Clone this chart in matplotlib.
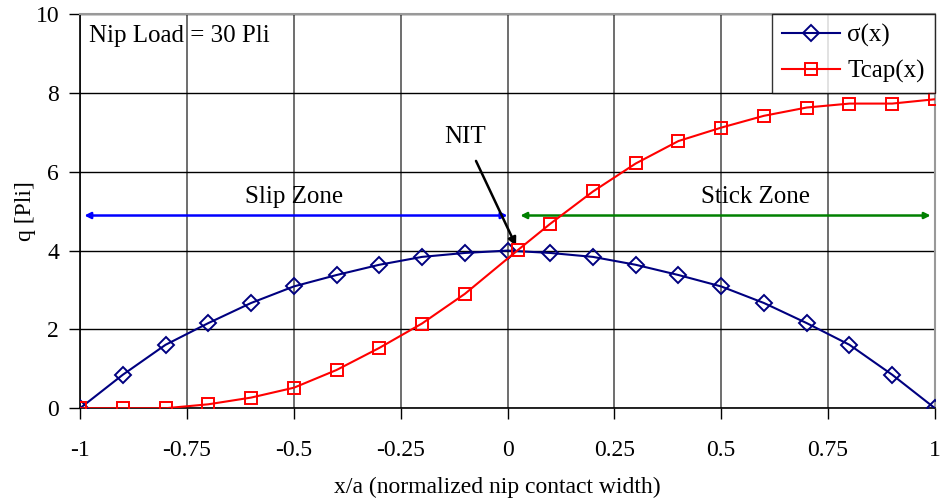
import numpy as np
import matplotlib.pyplot as plt

plt.rcParams['font.family'] = ['Liberation Serif', 'DejaVu Serif']

# normal stress across the nip
x_sigma = [-1.0, -0.9, -0.8, -0.7, -0.6, -0.5, -0.4, -0.3, -0.2, -0.1, 0.0,
           0.1, 0.2, 0.3, 0.4, 0.5, 0.6, 0.7, 0.8, 0.9, 1.0]
sigma = [0.0, 0.85, 1.61, 2.16, 2.67, 3.09, 3.38, 3.64, 3.84, 3.94, 4.0,
         3.94, 3.84, 3.64, 3.38, 3.09, 2.67, 2.16, 1.61, 0.85, 0.0]

# traction capacity
x_tcap = [-1.0, -0.9, -0.8, -0.7, -0.6, -0.5, -0.4, -0.3, -0.2, -0.1, 0.025,
          0.1, 0.2, 0.3, 0.4, 0.5, 0.6, 0.7, 0.8, 0.9, 1.0]
tcap = [0.0, 0.0, 0.0, 0.1, 0.27, 0.52, 0.97, 1.53, 2.15, 2.9, 4.02,
        4.68, 5.50, 6.21, 6.78, 7.12, 7.42, 7.63, 7.73, 7.73, 7.84]

x_ticks = [-1, -0.75, -0.5, -0.25, 0, 0.25, 0.5, 0.75, 1]
x_tick_labels = ['-1', '-0.75', '-0.5', '-0.25', '0', '0.25', '0.5', '0.75', '1']
y_ticks = [0, 2, 4, 6, 8, 10]

# zone extents and labels
zone_y = 4.89
slip_zone = (-0.99, 0.0)
stick_zone = (0.03, 0.99)
nit_point = (0.02, 4.12)

FS = 18

fig = plt.figure(figsize=(9.42, 5.04), dpi=100)
ax = fig.add_axes([0.085, 0.19, 0.9075, 0.782])

ax.plot(x_sigma, sigma, color='#000080', lw=1.5, marker='D', ms=8,
        mfc='none', mec='#000080', mew=1.4, label='σ(x)', zorder=4)
ax.plot(x_tcap, tcap, color='#ff0000', lw=1.5, marker='s', ms=8,
        mfc='none', mec='#ff0000', mew=1.4, label='Tcap(x)', zorder=4)

ax.set_xlim(-1, 1)
ax.set_ylim(0, 10)
ax.set_xticks(x_ticks)
ax.set_xticklabels(x_tick_labels)
ax.set_yticks(y_ticks)

ax.grid(axis='y', color='black', lw=1.0)
ax.grid(axis='x', color='#555555', lw=1.2)
ax.set_axisbelow(True)

for side in ['top', 'right']:
    ax.spines[side].set_color('#999999')
    ax.spines[side].set_linewidth(1.5)
for side in ['left', 'bottom']:
    ax.spines[side].set_color('black')
    ax.spines[side].set_linewidth(1.2)

ax.tick_params(axis='x', direction='out', length=8, width=1, pad=15, labelsize=17)
ax.tick_params(axis='y', direction='out', length=8, width=1, pad=7, labelsize=17)

ax.set_xlabel('x/a (normalized nip contact width)', fontsize=17, labelpad=11)
ax.xaxis.label.set_x(0.488)
ax.set_ylabel('q [Pli]', fontsize=17, labelpad=0)

# slip / stick zone arrows
ax.annotate('', xy=(slip_zone[0], zone_y), xytext=(slip_zone[1], zone_y),
            arrowprops=dict(arrowstyle='<|-|>', color='#0000ff', lw=1.8,
                            mutation_scale=9, shrinkA=0, shrinkB=0))
ax.annotate('', xy=(stick_zone[0], zone_y), xytext=(stick_zone[1], zone_y),
            arrowprops=dict(arrowstyle='<|-|>', color='#008000', lw=1.8,
                            mutation_scale=9, shrinkA=0, shrinkB=0))
ax.text(-0.5, 5.35, 'Slip Zone', fontsize=FS, ha='center', va='center')
ax.text(0.58, 5.35, 'Stick Zone', fontsize=FS, ha='center', va='center')

ax.annotate('NIT', xy=nit_point, xytext=(-0.1, 6.88), fontsize=FS,
            ha='center', va='center',
            arrowprops=dict(arrowstyle='-|>', color='black', lw=1.8,
                            mutation_scale=12, shrinkA=8, shrinkB=0))

ax.text(-0.98, 9.45, 'Nip Load = 30 Pli', fontsize=FS, ha='left', va='center')

leg = ax.legend(loc='upper right', fontsize=FS, frameon=True, fancybox=False,
                borderaxespad=0, handlelength=2.3, borderpad=0.4,
                labelspacing=0.5, handletextpad=0.3)
leg.get_frame().set_edgecolor('black')
leg.get_frame().set_linewidth(1.0)

fig.savefig('out.png', dpi=100)
